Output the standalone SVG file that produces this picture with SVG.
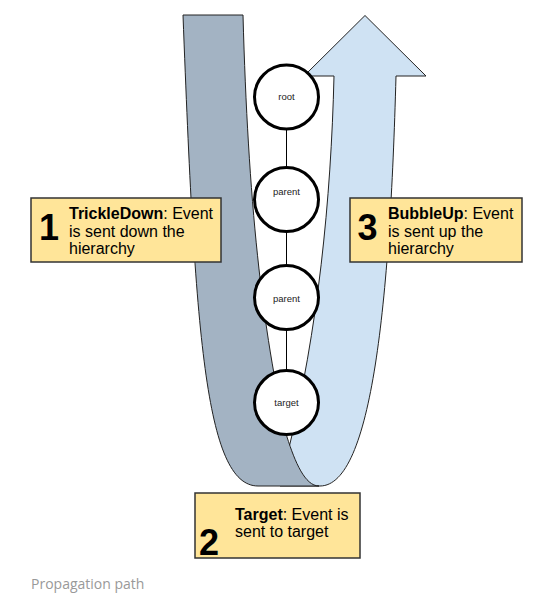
<svg xmlns="http://www.w3.org/2000/svg" width="559" height="598" viewBox="0 0 559 598">
<style>
.band{stroke:#222;stroke-width:1;stroke-linejoin:round}
.node circle{fill:#fff;stroke:#000;stroke-width:3}
.node text{font-family:"Liberation Sans",Arial,sans-serif;font-size:9.5px;fill:#222;text-anchor:middle}
.box rect{fill:#ffe599;stroke:#333;stroke-width:1.5}
.box text{font-family:"Liberation Sans",Arial,sans-serif;font-size:16px;fill:#000}
.box .num{font-size:36px;font-weight:bold;text-anchor:middle}
.b{font-weight:bold}
.edge{stroke:#000;stroke-width:1}
</style>
<rect width="559" height="598" fill="#fff"/>
<g id="bubble-arrow">
<path class="band" fill="#cfe2f3" d="M334,76 L304,76 L365,15.5 L426,76 L396,76 C390,300 372,486 320,486 L280,486 L280,470 L288,452 C318,330 331,200 334,76 Z"/>
</g>
<g id="trickle-band">
<path class="band" fill="#a3b3c3" d="M183,15 L243,15 C248,200 262,330 287,437 C295,462 305,486 319,486 L258,486 C205,486 195,330 183,15 Z"/>
</g>
<g id="connectors">
<line class="edge" x1="286.5" y1="129" x2="286.5" y2="167"/>
<line class="edge" x1="286.5" y1="232" x2="286.5" y2="265"/>
<line class="edge" x1="286.5" y1="330" x2="286.5" y2="370"/>
</g>
<g id="node-root" class="node"><circle cx="286.5" cy="97" r="32"/><text x="286.5" y="99.5">root</text></g>
<g id="node-parent1" class="node"><circle cx="286.5" cy="199.5" r="32"/><text x="286.5" y="194.5">parent</text></g>
<g id="node-parent2" class="node"><circle cx="286.5" cy="297.5" r="32"/><text x="286.5" y="302">parent</text></g>
<g id="node-target" class="node"><circle cx="286.5" cy="402.5" r="32"/><text x="286.5" y="406">target</text></g>
<g id="box-trickledown" class="box">
<rect x="31" y="198" width="190" height="64"/>
<text class="num" x="49" y="240">1</text>
<text x="69" y="219"><tspan class="b">TrickleDown</tspan>: Event</text>
<text x="69" y="236.5">is sent down the</text>
<text x="69" y="253.5">hierarchy</text>
</g>
<g id="box-bubbleup" class="box">
<rect x="350" y="198" width="172" height="64"/>
<text class="num" x="367.5" y="240">3</text>
<text x="388" y="219"><tspan class="b">BubbleUp</tspan>: Event</text>
<text x="388" y="236.5">is sent up the</text>
<text x="388" y="253.5">hierarchy</text>
</g>
<g id="box-target" class="box">
<rect x="195" y="493" width="165" height="65"/>
<text class="num" x="209" y="555">2</text>
<text x="235" y="520"><tspan class="b">Target</tspan>: Event is</text>
<text x="235" y="537">sent to target</text>
</g>
<text x="31" y="589" font-family="'Open Sans',sans-serif" font-size="14" fill="#999">Propagation path</text>
</svg>
